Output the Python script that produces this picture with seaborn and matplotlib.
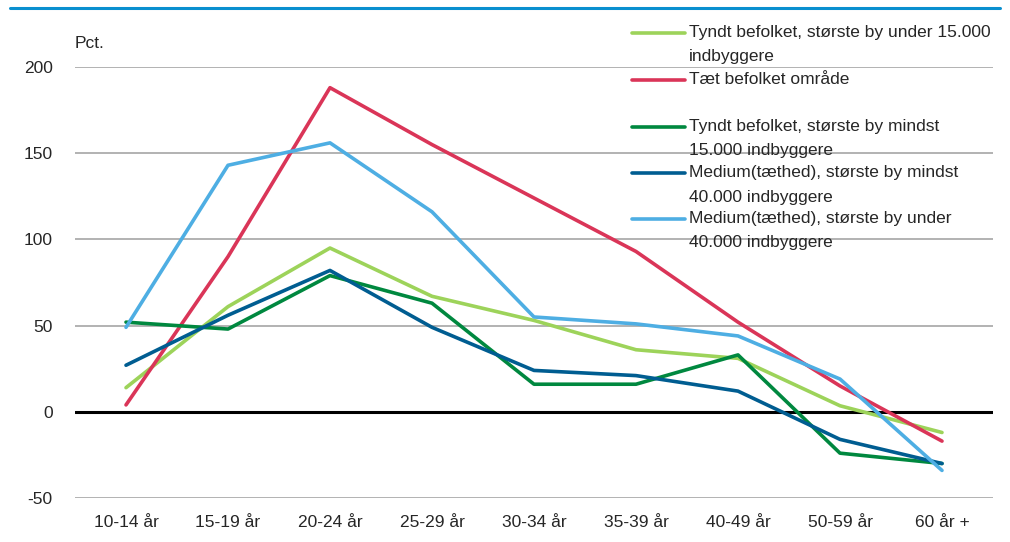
import matplotlib
matplotlib.use("Agg")
import pandas as pd
import matplotlib.pyplot as plt
import seaborn as sns
from matplotlib.lines import Line2D

# data
ages = ["10-14 år", "15-19 år", "20-24 år", "25-29 år", "30-34 år",
        "35-39 år", "40-49 år", "50-59 år", "60 år +"]
tyndt_under = [14, 61, 95, 67, 53, 36, 31, 3.5, -12]
taet = [4, 90, 188, 155, 124, 93, 52, 15, -17]
tyndt_mindst = [52, 48, 79, 63, 16, 16, 33, -24, -30]
medium_mindst = [27, 56, 82, 49, 24, 21, 12, -16, -30]
medium_under = [49, 143, 156, 116, 55, 51, 44, 19, -34]

series = {
    "Tyndt befolket, største by under 15.000\nindbyggere": tyndt_under,
    "Tæt befolket område": taet,
    "Tyndt befolket, største by mindst\n15.000 indbyggere": tyndt_mindst,
    "Medium(tæthed), største by mindst\n40.000 indbyggere": medium_mindst,
    "Medium(tæthed), største by under\n40.000 indbyggere": medium_under,
}
colors = ["#9dd35a", "#da3558", "#00883f", "#005d91", "#4eaee3"]

df = pd.DataFrame(series, index=ages).reset_index(names="alder")
long_df = df.melt(id_vars="alder", var_name="serie", value_name="pct")
long_df["x"] = long_df["alder"].map({a: i for i, a in enumerate(ages)})

sns.set_style("white")
plt.rcParams["font.family"] = ["Liberation Sans Narrow", "Liberation Sans", "DejaVu Sans"]
plt.rcParams["axes.unicode_minus"] = False

fs = 12.5

fig = plt.figure(figsize=(10.1, 5.42), dpi=100)
ax = fig.add_axes([75 / 1010, 1 - 498 / 542, 918 / 1010, (498 - 67) / 542])

sns.lineplot(data=long_df, x="x", y="pct", hue="serie", palette=colors,
             linewidth=2.6, ax=ax, legend=False, sort=False)

ax.set_xlim(-0.5, len(ages) - 0.5)
ax.set_ylim(-50, 200)
ax.set_xticks(range(len(ages)))
ax.set_xticklabels(ages, fontsize=fs)
ax.set_yticks([-50, 0, 50, 100, 150, 200])
ax.tick_params(axis="y", labelsize=fs, length=0, pad=16)
ax.tick_params(axis="x", length=0, pad=12)
ax.set_xlabel("")
ax.set_ylabel("")
ax.yaxis.grid(True, color="#a6a6a6", linewidth=1.2)
ax.set_axisbelow(True)
ax.axhline(0, color="black", linewidth=2.2, zorder=1.5)
for s in ax.spines.values():
    s.set_visible(False)

fig.text(75 / 1010, 1 - 43 / 542, "Pct.", fontsize=fs, va="center", ha="left")

# blue rule across the top
fig.add_artist(Line2D([10 / 1010, 1000 / 1010], [1 - 8 / 542] * 2,
                      color="#0a8fcf", linewidth=2.2))

# legend drawn by hand: handle lines up with the first text line
legend_y = [33, 80, 127, 173, 219]
for (label, color), y in zip(zip(series.keys(), colors), legend_y):
    fig.add_artist(Line2D([632 / 1010, 685 / 1010], [1 - y / 542] * 2,
                          color=color, linewidth=2.6))
    for k, line in enumerate(label.split("\n")):
        fig.text(689 / 1010, 1 - (y + 24 * k) / 542, line, fontsize=fs,
                 va="center", ha="left")

fig.savefig("out.png", dpi=100)
